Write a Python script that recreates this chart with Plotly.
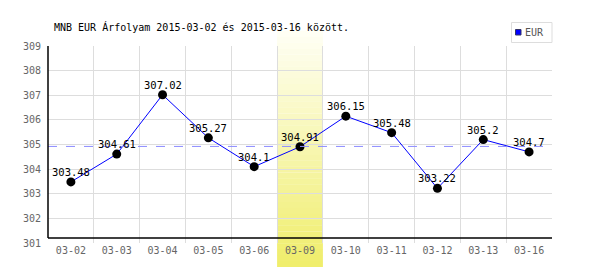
import plotly.graph_objects as go
import numpy as np

dates = ["03-02", "03-03", "03-04", "03-05", "03-06", "03-09", "03-10", "03-11", "03-12", "03-13", "03-16"]
rates = [303.48, 304.61, 307.02, 305.27, 304.1, 304.91, 306.15, 305.48, 303.22, 305.2, 304.7]
labels = ["303.48", "304.61", "307.02", "305.27", "304.1", "304.91", "306.15", "305.48", "303.22", "305.2", "304.7"]
highlight = "03-09"
series_name = "EUR"
title_text = "MNB EUR Árfolyam 2015-03-02 és 2015-03-16 között."

W, H = 600, 270
L, R, T, B = 48, 552, 46, 243
MONO = "DejaVu Sans Mono, Liberation Mono, monospace"


def px(x):
    return (x - L) / (R - L)


def py(y):
    return (B - y) / (B - T)


fig = go.Figure()
fig.add_trace(go.Scatter(
    x=dates, y=rates, mode="lines+markers",
    line=dict(color="#0000ff", width=1),
    marker=dict(color="#000000", size=9),
    showlegend=False, cliponaxis=False,
))

shapes = []
# highlighted column with vertical gradient
hi = dates.index(highlight)
n = 40
top_px, bot_px = 31, 267
c0 = np.array([255, 255, 244])
c1 = np.array([240, 238, 108])
for i in range(n):
    f = i / (n - 1)
    c = c0 + (c1 - c0) * f
    y0 = top_px + (bot_px - top_px) * i / n
    y1 = top_px + (bot_px - top_px) * (i + 1) / n
    shapes.append(dict(type="rect", xref="x", yref="paper", x0=hi - 0.5, x1=hi + 0.5,
                       y0=py(y1), y1=py(y0) + 0.001, line=dict(width=0),
                       fillcolor="rgb(%d,%d,%d)" % tuple(c.astype(int)), layer="below"))
# mean line
mean_val = float(np.mean(rates))
shapes.append(dict(type="line", xref="paper", yref="y", x0=0, x1=1, y0=mean_val, y1=mean_val,
                   line=dict(color="#8c8cff", width=1, dash="dash"), layer="above"))
# axes lines
shapes.append(dict(type="line", xref="paper", yref="paper", x0=0, x1=1, y0=py(238), y1=py(238),
                   line=dict(color="#000000", width=1.5)))
shapes.append(dict(type="line", xref="paper", yref="paper", x0=0, x1=0, y0=py(238), y1=1,
                   line=dict(color="#000000", width=1.5)))
# legend box
shapes.append(dict(type="rect", xref="paper", yref="paper", x0=px(511.5), x1=px(552), y0=py(42.5), y1=py(22.5),
                   line=dict(color="#dddddd", width=1), fillcolor="#ffffff"))
shapes.append(dict(type="rect", xref="paper", yref="paper", x0=px(515.5), x1=px(521), y0=py(35), y1=py(29.5),
                   line=dict(color="#333366", width=1), fillcolor="#0000ff"))

annotations = [
    dict(text=series_name, xref="paper", yref="paper", x=px(523), y=py(32.5), xanchor="left", yanchor="middle",
         showarrow=False, font=dict(family=MONO, size=10, color="#555555")),
    dict(text=title_text, xref="paper", yref="paper", x=px(52), y=py(27), xanchor="left", yanchor="middle",
         showarrow=False, font=dict(family=MONO, size=10, color="#000000")),
]
for d, v, t in zip(dates, rates, labels):
    annotations.append(dict(text=t, x=d, y=v, xref="x", yref="y", showarrow=False,
                            xanchor="center", yanchor="middle", yshift=10,
                            font=dict(family=MONO, size=10.5, color="#000000")))

fig.update_layout(
    width=W, height=H,
    margin=dict(l=L, r=W - R, t=T, b=H - B, pad=0),
    paper_bgcolor="#ffffff", plot_bgcolor="rgba(0,0,0,0)",
    shapes=shapes, annotations=annotations,
    xaxis=dict(type="category", range=[-0.5, len(dates) - 0.5], tickson="boundaries",
               showgrid=True, gridcolor="#dddddd", gridwidth=1, showline=False, zeroline=False,
               ticks="", tickfont=dict(family=MONO, size=10, color="#666666"), ticklabelstandoff=0,
               fixedrange=True),
    yaxis=dict(range=[301, 309], dtick=1, showgrid=True, gridcolor="#dddddd", gridwidth=1,
               showline=False, zeroline=False, ticks="", ticklabelstandoff=6,
               tickfont=dict(family=MONO, size=10, color="#666666"), fixedrange=True),
    showlegend=False,
)

fig.write_html("out.html")
